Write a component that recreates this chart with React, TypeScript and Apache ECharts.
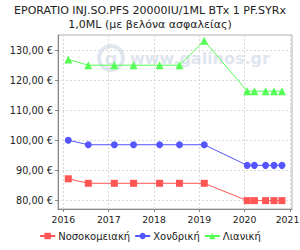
import React, { useEffect, useRef } from "react";
import * as echarts from "echarts";

const titleLines = ["EPORATIO INJ.SO.PFS 20000IU/1ML BTx 1 PF.SYRx", "1,0ML (με βελόνα ασφαλείας)"];
const dates = [
  "2016-02-10", "2016-07-20", "2017-02-15", "2017-07-20", "2018-02-15", "2018-07-25",
  "2019-02-10", "2020-01-22", "2020-03-20", "2020-06-18", "2020-08-25", "2020-10-28",
];
const hospital = [87.1, 85.6, 85.6, 85.6, 85.6, 85.6, 85.6, 79.8, 79.8, 79.8, 79.8, 79.8];
const wholesale = [100.0, 98.5, 98.5, 98.5, 98.5, 98.5, 98.5, 91.6, 91.6, 91.6, 91.6, 91.6];
const retail = [127.0, 125.1, 125.1, 125.1, 125.1, 125.1, 133.3, 116.4, 116.4, 116.4, 116.4, 116.4];
const seriesNames = ["Νοσοκομειακή", "Χονδρική", "Λιανική"];
const yTicks = [80, 90, 100, 110, 120, 130];
const xTicks = ["2016-01-01", "2017-01-01", "2018-01-01", "2019-01-01", "2020-01-01", "2021-01-01"];
const xRange = ["2015-11-19", "2021-01-17"];

const FONT = "DejaVu Sans";
const t = (d: string) => Date.parse(d + "T00:00:00Z");

export default function App() {
  const ref = useRef<HTMLDivElement>(null);
  useEffect(() => {
    if (!ref.current) return;
    const chart = echarts.init(ref.current, null, { renderer: "svg" });
    const mk = (vals: number[]) => dates.map((d, i) => [t(d), vals[i]]);
    const colors = ["#FF5555", "#5555FF", "#55FF55"];
    const symbols = ["rect", "circle", "triangle"];
    const all = [hospital, wholesale, retail];
    const xTickVals = xTicks.map(t);
    const lastTick = xTickVals[xTickVals.length - 1];
    chart.setOption({
      animation: false,
      backgroundColor: "#fff",
      textStyle: { fontFamily: FONT },
      title: {
        text: titleLines.join("\n"),
        left: "center",
        top: 3,
        padding: 0,
        textStyle: { fontFamily: FONT, fontSize: 11, fontWeight: "normal", color: "#222", lineHeight: 14 },
      },
      graphic: [
        {
          type: "ring",
          shape: { cx: 111, cy: 58, r: 14, r0: 10 },
          style: { fill: "#dfe6f0" },
          z: 0,
        },
        {
          type: "text",
          x: 111,
          y: 58,
          style: { text: "g", fontFamily: FONT, fontSize: 18, fontWeight: "bold", fill: "#dfe6f0", align: "center", verticalAlign: "middle" },
          z: 0,
        },
        {
          type: "text",
          x: 130,
          y: 58,
          style: { text: "www.galinos.gr", fontFamily: FONT, fontSize: 16, fontWeight: "bold", fill: "#dfe6f0", verticalAlign: "middle" },
          z: 0,
        },
      ],
      legend: {
        bottom: 4,
        left: "center",
        itemWidth: 15,
        itemHeight: 8,
        itemGap: 4,
        textStyle: { fontFamily: FONT, fontSize: 10, color: "#222", padding: [0, 0, 0, -2] },
        data: seriesNames,
      },
      grid: {
        left: 58,
        right: 8,
        top: 35,
        bottom: 41,
        show: true,
        borderColor: "#b0b0b0",
        borderWidth: 1,
        backgroundColor: "transparent",
        outerBoundsMode: "none",
        containLabel: false,
      },
      xAxis: {
        type: "value",
        min: t(xRange[0]),
        max: t(xRange[1]),
        axisLine: { show: true, lineStyle: { color: "#888" } },
        axisTick: { show: true, length: 3, lineStyle: { color: "#888" }, customValues: xTickVals },
        axisLabel: {
          customValues: xTickVals,
          fontFamily: FONT,
          fontSize: 9.3,
          color: "#222",
          margin: 6,
          hideOverlap: false,
          formatter: (v: number) => {
            const y = String(new Date(v).getUTCFullYear());
            return v === lastTick ? "{last|" + y + "}" : y;
          },
          rich: { last: { fontFamily: FONT, fontSize: 9.3, color: "#222", padding: [0, 5, 0, 0] } },
        },
        splitLine: { show: true, lineStyle: { color: "#d8d8d8", type: [2, 2] } },
      },
      yAxis: {
        type: "value",
        min: 77,
        max: 135.2,
        axisLine: { show: true, lineStyle: { color: "#888" } },
        axisTick: { show: true, length: 3, lineStyle: { color: "#888" }, customValues: yTicks },
        axisLabel: {
          customValues: yTicks,
          fontFamily: FONT,
          fontSize: 9.7,
          color: "#222",
          margin: 5,
          formatter: (v: number) => v.toFixed(2).replace(".", ",") + " €",
        },
        splitLine: { show: true, lineStyle: { color: "#d8d8d8", type: [2, 2] } },
      },
      series: all.map((vals, i) => ({
        name: seriesNames[i],
        type: "line",
        data: mk(vals),
        symbol: symbols[i],
        symbolSize: i === 2 ? 8 : 7,
        showAllSymbol: true,
        itemStyle: { color: colors[i] },
        lineStyle: { color: colors[i], width: 1 },
        z: 3,
      })),
    });
    return () => chart.dispose();
  }, []);
  return <div ref={ref} style={{ position: "fixed", left: 0, top: 0, width: 300, height: 250 }} />;
}
